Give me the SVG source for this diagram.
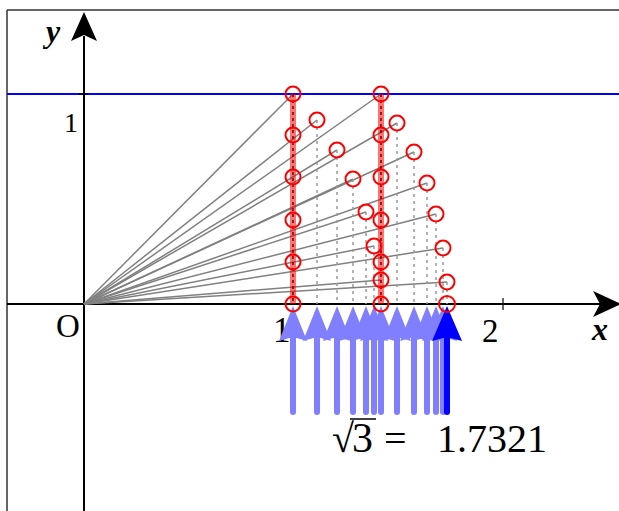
<svg xmlns="http://www.w3.org/2000/svg" width="619" height="511" viewBox="0 0 619 511">
<defs>
<style>
.frame{stroke:#333;stroke-width:1.5;fill:none}
.axis{stroke:#000;stroke-width:2;fill:none}
.ray{stroke:#808080;stroke-width:1.5;fill:none}
.drop{stroke:#999;stroke-width:1.5;stroke-dasharray:3 4;fill:none}
.core{stroke:#700;stroke-width:1.5;stroke-dasharray:3 3;fill:none}
.band{stroke:#ff0000;stroke-opacity:0.55;stroke-width:6;fill:none}
.pt{stroke:#ff0000;stroke-width:2;fill:none}
.lab{font-family:"Liberation Serif","Times New Roman",serif;fill:#000}
.it{font-style:italic;font-weight:bold}
.la{fill:#8080ff}
.ls{stroke:#8080ff;stroke-width:6;stroke-linecap:round}
</style>
<g id="arrowL"><line class="ls" x1="0" y1="412" x2="0" y2="336"/><path class="la" d="M0,306 L14,341 L0,337 L-14,341 Z"/></g>
</defs>
<rect width="619" height="511" fill="#fff"/>
<g id="frame">
<line class="frame" x1="7" y1="10" x2="619" y2="10"/>
<line class="frame" x1="7" y1="10" x2="7" y2="511"/>
</g>
<g id="level-line"><line x1="7" y1="94" x2="619" y2="94" stroke="#0000ff" stroke-width="2"/></g>
<g id="axes">
<line class="axis" x1="84" y1="511" x2="84" y2="36"/>
<path d="M84,12 L97,41 L84,35 L71,41 Z" fill="#000"/>
<line class="axis" x1="7" y1="304" x2="600" y2="304"/>
<path d="M621,304 L593,291 L600,304 L593,317 Z" fill="#000"/>
<line stroke="#000" stroke-width="1.2" x1="503" y1="298" x2="503" y2="310"/>
<line stroke="#000" stroke-width="1.2" x1="78" y1="94" x2="88" y2="94"/>
</g>
<g id="labels">
<text class="lab it" x="46" y="42" font-size="32">y</text>
<text class="lab it" x="592" y="340" font-size="32">x</text>
<text class="lab" x="56" y="337" font-size="33">O</text>
<text class="lab" x="64" y="132" font-size="28">1</text>
<text class="lab" x="273" y="342" font-size="35">1</text>
<text class="lab" x="482" y="342" font-size="33">2</text>
</g>
<g id="connectors">
<g id="rays">
<line class="ray" x1="84" y1="304" x2="293" y2="94"/>
<line class="ray" x1="84" y1="304" x2="381" y2="94"/>
<line class="ray" x1="84" y1="304" x2="317" y2="120"/>
<line class="ray" x1="84" y1="304" x2="337" y2="150"/>
<line class="ray" x1="84" y1="304" x2="353" y2="179"/>
<line class="ray" x1="84" y1="304" x2="366" y2="212"/>
<line class="ray" x1="84" y1="304" x2="374" y2="246"/>
<line class="ray" x1="84" y1="304" x2="397" y2="123"/>
<line class="ray" x1="84" y1="304" x2="414" y2="152"/>
<line class="ray" x1="84" y1="304" x2="427" y2="183"/>
<line class="ray" x1="84" y1="304" x2="436" y2="214"/>
<line class="ray" x1="84" y1="304" x2="443" y2="248"/>
<line class="ray" x1="84" y1="304" x2="447" y2="282"/>
<line class="ray" x1="84" y1="304" x2="381" y2="280"/>
</g>
<g id="drops">
<line class="drop" x1="317" y1="120" x2="317" y2="304"/>
<line class="drop" x1="337" y1="150" x2="337" y2="304"/>
<line class="drop" x1="353" y1="179" x2="353" y2="304"/>
<line class="drop" x1="366" y1="212" x2="366" y2="304"/>
<line class="drop" x1="374" y1="246" x2="374" y2="304"/>
<line class="drop" x1="397" y1="123" x2="397" y2="304"/>
<line class="drop" x1="414" y1="152" x2="414" y2="304"/>
<line class="drop" x1="427" y1="183" x2="427" y2="304"/>
<line class="drop" x1="436" y1="214" x2="436" y2="304"/>
<line class="drop" x1="443" y1="248" x2="443" y2="304"/>
<line class="drop" x1="447" y1="282" x2="447" y2="304"/>
</g>
<g id="bands">
<line class="band" x1="293" y1="94" x2="293" y2="304"/>
<line class="core" x1="293" y1="94" x2="293" y2="304"/>
<line class="band" x1="381" y1="94" x2="381" y2="304"/>
<line class="core" x1="381" y1="94" x2="381" y2="304"/>
</g>
<g id="up-arrows">
<use href="#arrowL" x="293"/>
<use href="#arrowL" x="317"/>
<use href="#arrowL" x="337"/>
<use href="#arrowL" x="353"/>
<use href="#arrowL" x="366"/>
<use href="#arrowL" x="374"/>
<use href="#arrowL" x="381"/>
<use href="#arrowL" x="397"/>
<use href="#arrowL" x="414"/>
<use href="#arrowL" x="427"/>
<use href="#arrowL" x="436"/>
<use href="#arrowL" x="443"/>
<g id="arrow-result">
<line x1="447" y1="412" x2="447" y2="336" stroke="#0000ff" stroke-width="6" stroke-linecap="round"/>
<path d="M447,306 L462,341 L447,337 L432,341 Z" fill="#0000ff"/>
</g>
</g>
</g>
<g id="points">
<g id="col1">
<circle class="pt" cx="293" cy="94" r="7.5"/>
<circle class="pt" cx="293" cy="135" r="7.5"/>
<circle class="pt" cx="293" cy="177" r="7.5"/>
<circle class="pt" cx="293" cy="220" r="7.5"/>
<circle class="pt" cx="293" cy="262" r="7.5"/>
<circle class="pt" cx="293" cy="304" r="7.5"/>
</g>
<g id="col2">
<circle class="pt" cx="381" cy="94" r="7.5"/>
<circle class="pt" cx="381" cy="135" r="7.5"/>
<circle class="pt" cx="381" cy="177" r="7.5"/>
<circle class="pt" cx="381" cy="220" r="7.5"/>
<circle class="pt" cx="381" cy="262" r="7.5"/>
<circle class="pt" cx="381" cy="280" r="7.5"/>
<circle class="pt" cx="381" cy="304" r="7.5"/>
</g>
<g id="arc1">
<circle class="pt" cx="317" cy="120" r="7.5"/>
<circle class="pt" cx="337" cy="150" r="7.5"/>
<circle class="pt" cx="353" cy="179" r="7.5"/>
<circle class="pt" cx="366" cy="212" r="7.5"/>
<circle class="pt" cx="374" cy="246" r="7.5"/>
</g>
<g id="arc2">
<circle class="pt" cx="397" cy="123" r="7.5"/>
<circle class="pt" cx="414" cy="152" r="7.5"/>
<circle class="pt" cx="427" cy="183" r="7.5"/>
<circle class="pt" cx="436" cy="214" r="7.5"/>
<circle class="pt" cx="443" cy="248" r="7.5"/>
<circle class="pt" cx="447" cy="282" r="7.5"/>
<circle class="pt" cx="447" cy="304" r="8" fill="#fff"/>
</g>
</g>
<g id="result">
<text class="lab" x="332" y="452" font-size="40">√</text>
<line x1="350" y1="419" x2="376" y2="419" stroke="#000" stroke-width="1.5"/>
<text class="lab" x="352" y="452" font-size="42">3</text>
<text class="lab" x="384" y="452" font-size="40">=</text>
<text class="lab" x="437" y="452" font-size="40">1.7321</text>
</g>
</svg>
